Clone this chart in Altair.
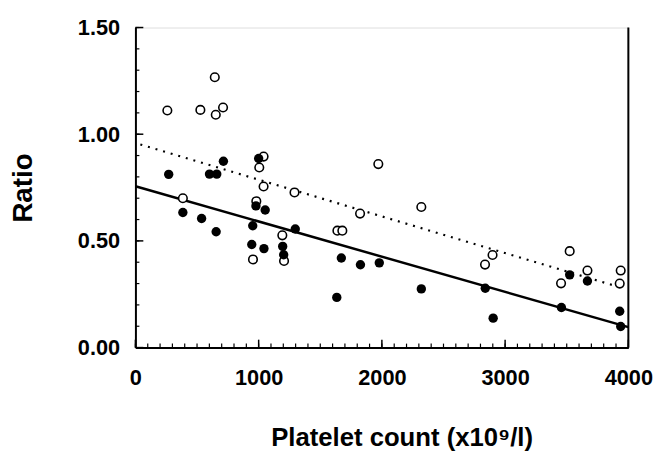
import altair as alt
import pandas as pd

# Open circles
open_x = [259, 527, 644, 652, 711, 1040, 1005, 1040, 1291, 385, 981, 954, 1192, 1206,
          1639, 1679, 1823, 2320, 1971, 2898, 2837, 3524, 3668, 3454, 3938, 3930]
open_y = [1.111, 1.114, 1.267, 1.091, 1.125, 0.895, 0.844, 0.755, 0.727, 0.700, 0.686,
          0.413, 0.526, 0.406, 0.548, 0.548, 0.628, 0.659, 0.860, 0.434, 0.389, 0.452,
          0.361, 0.301, 0.361, 0.300]

# Filled circles
fill_x = [270, 601, 660, 714, 1000, 385, 537, 655, 978, 1053, 952, 944, 1043, 1195, 1203,
          1297, 1671, 1826, 1979, 1634, 2320, 2839, 2903, 3524, 3668, 3457, 3930, 3938]
fill_y = [0.812, 0.813, 0.813, 0.873, 0.886, 0.633, 0.605, 0.543, 0.664, 0.645, 0.571,
          0.483, 0.464, 0.474, 0.435, 0.556, 0.420, 0.388, 0.397, 0.235, 0.275, 0.278,
          0.138, 0.341, 0.312, 0.188, 0.170, 0.099]

# Regression lines (end points)
solid_x = [0, 4000]
solid_y = [0.756, 0.096]
dot_x = [40, 3900]
dot_y = [0.952, 0.288]

# Axis ticks
x_labels = [0, 1000, 2000, 3000, 4000]
y_labels = [0.0, 0.5, 1.0, 1.5]
x_minor = list(range(0, 4001, 100))
y_minor = [i / 10 for i in range(0, 16)]

W, H = 499, 324
FONT = "Liberation Sans"

xs = alt.Scale(domain=[0, 4000], nice=False)
ys = alt.Scale(domain=[0, 1.5], nice=False)

df_open = pd.DataFrame({"x": open_x, "y": open_y})
df_fill = pd.DataFrame({"x": fill_x, "y": fill_y})
df_solid = pd.DataFrame({"x": solid_x, "y": solid_y})
df_dot = pd.DataFrame({"x": dot_x, "y": dot_y})

X = alt.X("x:Q", scale=xs, title="Platelet count (x10⁹/l)",
          axis=alt.Axis(values=x_labels, format="d", ticks=False, grid=False,
                        domainColor="black", domainWidth=2, labelFlush=False,
                        labelFont=FONT, labelFontSize=22, labelFontWeight="bold",
                        labelColor="black", labelPadding=20,
                        titleFont=FONT, titleFontSize=26, titleFontWeight="bold",
                        titleColor="black", titleBaseline="alphabetic",
                        titleY=99, titleX=W / 2 + 20, titleAlign="center"))
Y = alt.Y("y:Q", scale=ys, title="Ratio",
          axis=alt.Axis(values=y_labels, format=".2f", ticks=False, grid=False,
                        domainColor="black", domainWidth=2, labelFlush=False,
                        labelFont=FONT, labelFontSize=22, labelFontWeight="bold",
                        labelColor="black", labelPadding=16,
                        titleFont=FONT, titleFontSize=28, titleFontWeight="bold",
                        titleColor="black", titleBaseline="alphabetic",
                        titleX=-105, titleY=H / 2, titleAlign="center", titleAngle=-90))

solid = alt.Chart(df_solid).mark_line(color="black", strokeWidth=2.5).encode(x=X, y=Y)
dotted = alt.Chart(df_dot).mark_line(color="black", strokeWidth=2.2,
                                     strokeDash=[2, 6]).encode(x=X, y=Y)
opens = alt.Chart(df_open).mark_point(shape="circle", size=75, filled=False,
                                      fill="white", stroke="black", strokeWidth=1.6,
                                      opacity=1).encode(x=X, y=Y)
fills = alt.Chart(df_fill).mark_circle(size=90, color="black", opacity=1).encode(x=X, y=Y)

xmin = alt.Chart(pd.DataFrame({"v": x_minor})).mark_rule(color="black", strokeWidth=1.2).encode(
    x=alt.X("v:Q", scale=xs), y=alt.value(H), y2=alt.value(H - 4))
xmaj = alt.Chart(pd.DataFrame({"v": x_labels})).mark_rule(color="black", strokeWidth=1.5).encode(
    x=alt.X("v:Q", scale=xs), y=alt.value(H), y2=alt.value(H - 8))
ymin = alt.Chart(pd.DataFrame({"v": y_minor})).mark_rule(color="black", strokeWidth=1.2).encode(
    y=alt.Y("v:Q", scale=ys), x=alt.value(0), x2=alt.value(4))
ymaj = alt.Chart(pd.DataFrame({"v": y_labels})).mark_rule(color="black", strokeWidth=1.5).encode(
    y=alt.Y("v:Q", scale=ys), x=alt.value(0), x2=alt.value(8))
right = alt.Chart(pd.DataFrame({"v": [0]})).mark_rule(color="black", strokeWidth=2).encode(
    x=alt.value(W), y=alt.value(0), y2=alt.value(H))

chart = alt.layer(solid, dotted, opens, fills, xmin, xmaj, ymin, ymaj, right).properties(
    width=W, height=H,
    autosize=alt.AutoSizeParams(type="none"),
    padding={"left": 129, "top": 17, "right": 28, "bottom": 107},
).configure_view(stroke=None).configure(background="white")

chart.save("out.html", embed_options={"renderer": "svg", "actions": False})
